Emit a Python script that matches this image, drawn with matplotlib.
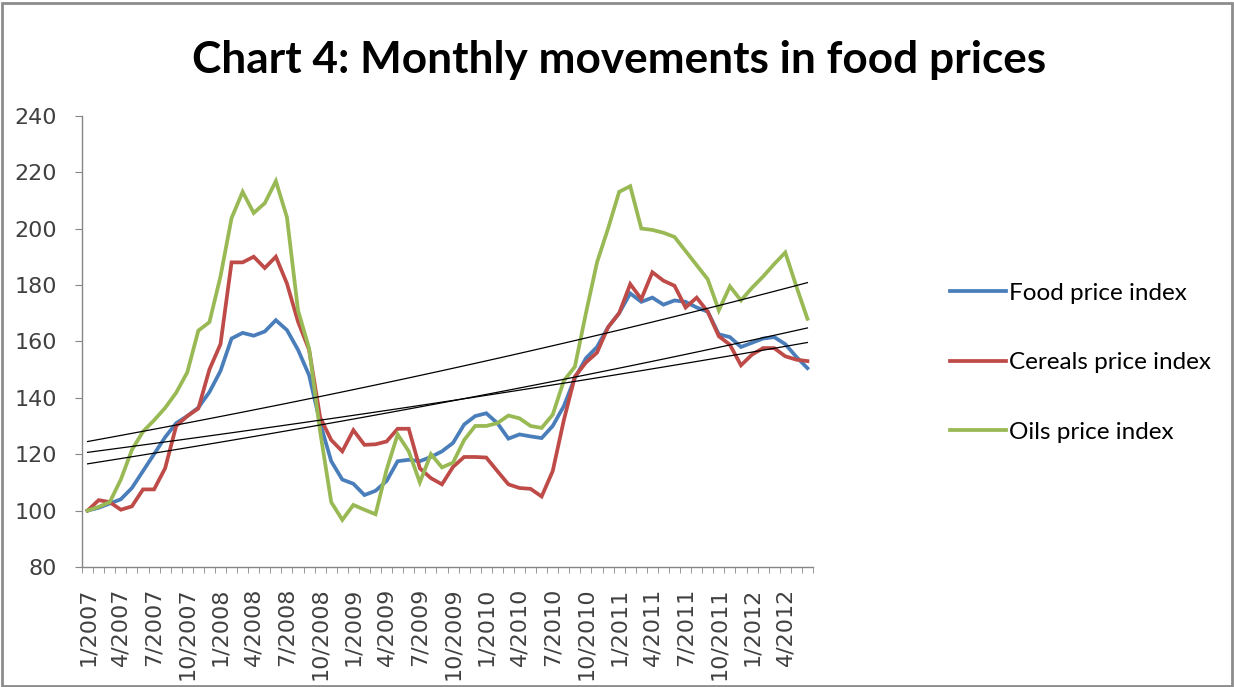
import numpy as np
import matplotlib
matplotlib.use("Agg")
import matplotlib.pyplot as plt
from matplotlib.patches import Rectangle

# --- Datos (indice, enero 2007 = 100) ---
months = [f"{m}/{y}" for y in range(2007, 2013) for m in range(1, 13)][:66]

food = [100, 101, 102.5, 104, 108, 114, 120, 126, 131, 133.5,
        136.5, 142, 149.5, 161, 163, 162, 163.5, 167.5, 164, 157,
        148, 131, 117.5, 111, 109.5, 105.5, 107, 110.5, 117.5, 118,
        117.5, 119, 121, 124, 130.5, 133.5, 134.5, 131, 125.5, 127,
        126.3, 125.7, 130, 137, 147, 154, 158, 165, 170, 177,
        174, 175.5, 173, 174.5, 174, 172, 170.5, 162.5, 161.5, 158,
        159.5, 161, 161.5, 159, 154.5, 150.5]

cereals = [100, 103.7, 103, 100.3, 101.5, 107.5, 107.5, 115, 130, 133.5,
           136.2, 150, 159, 188, 188, 190, 186, 190, 180.5, 167,
           157, 133, 125, 121, 128.5, 123.3, 123.5, 124.5, 129, 129,
           115, 111.5, 109.3, 115.5, 119, 119, 118.8, 114, 109.3, 108,
           107.7, 105, 114, 132, 147.5, 152.5, 156, 165, 170, 180.3,
           175, 184.5, 181.5, 179.7, 172, 175.5, 170.5, 161.8, 158.8, 151.5,
           155.3, 157.6, 157.6, 154.7, 153.5, 153]

oils = [100, 101.3, 103, 111, 121.5, 128, 132, 136.4, 141.8, 149,
        163.8, 166.8, 183, 203.7, 213, 205.5, 209, 216.8, 204, 171,
        157.5, 128, 103, 96.7, 102, 100.3, 98.7, 114.5, 127, 121,
        110, 120, 115.3, 117, 125, 130, 130, 131, 133.7, 132.7,
        130, 129.3, 134, 146, 151, 170, 188, 200, 213, 215,
        200, 199.5, 198.5, 197, 192, 187, 182, 171, 179.5, 174.5,
        179, 183, 187.4, 191.5, 179.5, 168]

series = [("Food price index", food, "#4A7EBB"),
          ("Cereals price index", cereals, "#BE4B48"),
          ("Oils price index", oils, "#98B954")]

x = np.arange(len(months))

# --- Grafico ---
fig = plt.figure(figsize=(12.34, 6.87), dpi=100)
ax = fig.add_axes([0.0665, 0.1747, 0.5923, 0.6569])

for name, vals, color in series:
    ax.plot(x, vals, color=color, linewidth=2.7, label=name, solid_joinstyle="miter")

# lineas de tendencia exponenciales (como en Excel)
for name, vals, color in series:
    b, a = np.polyfit(x, np.log(vals), 1)
    ax.plot(x, np.exp(a + b * x), color="black", linewidth=0.9)

ax.set_xlim(-0.5, len(months) - 0.5)
ax.set_ylim(80, 240)
ax.set_yticks(range(80, 241, 20))

ax.set_xticks(x[::3])
ax.set_xticklabels(months[::3], rotation=90)
ax.set_xticks(np.arange(-0.5, len(months), 1), minor=True)
ax.tick_params(axis="x", which="major", length=0, pad=15)
ax.tick_params(axis="x", which="minor", length=4, color="#868686")
ax.tick_params(axis="y", length=5, color="#868686", pad=13)
ax.tick_params(labelsize=16, labelcolor="#404040")

for side in ["top", "right"]:
    ax.spines[side].set_visible(False)
for side in ["left", "bottom"]:
    ax.spines[side].set_color("#868686")
    ax.spines[side].set_linewidth(1.0)

fig.text(0.5016, 0.8937, "Chart 4: Monthly movements in food prices",
         ha="center", va="baseline", fontsize=31.8, fontweight="bold",
         family="Lato", color="black")

fig.legend(loc="center left", bbox_to_anchor=(0.770, 0.472), frameon=False,
           prop={"family": "Lato", "size": 17.5}, handlelength=2.3,
           handletextpad=0.1, labelspacing=2.0, borderpad=0, borderaxespad=0)

fig.patches.append(Rectangle((0.002, 0.002), 0.996, 0.994, transform=fig.transFigure,
                             fill=False, edgecolor="#8c8c8c", linewidth=2))

plt.savefig("out.png", dpi=100)
